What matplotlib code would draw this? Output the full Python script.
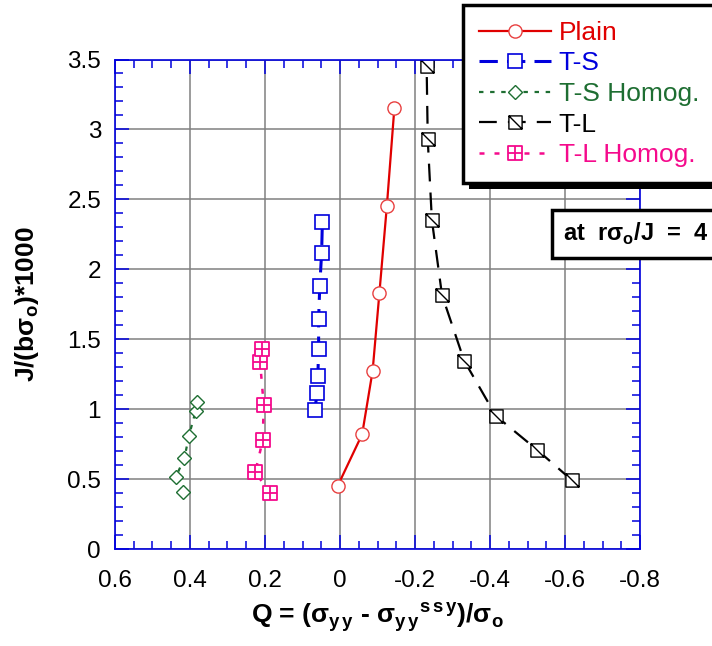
import numpy as np
import matplotlib
matplotlib.use('Agg')
import matplotlib.pyplot as plt
from matplotlib.path import Path
from matplotlib.patches import Rectangle
from matplotlib.transforms import IdentityTransform
from matplotlib.ticker import MultipleLocator, FuncFormatter

plt.rcParams['font.family'] = ['Liberation Sans', 'DejaVu Sans']
plt.rcParams['mathtext.fontset'] = 'custom'
plt.rcParams['mathtext.rm'] = 'Liberation Sans'
plt.rcParams['mathtext.bf'] = 'Liberation Sans:bold'

# data (Q, J/(b*sigma_o)*1000)
plain_q = [0.006, -0.059, -0.087, -0.105, -0.125, -0.145]
plain_j = [0.452, 0.820, 1.274, 1.828, 2.454, 3.154]

ts_q = [0.067, 0.061, 0.059, 0.057, 0.057, 0.054, 0.049, 0.047]
ts_j = [0.996, 1.117, 1.239, 1.431, 1.646, 1.878, 2.118, 2.340]

tsh_q = [0.419, 0.438, 0.415, 0.403, 0.385, 0.382]
tsh_j = [0.410, 0.515, 0.648, 0.808, 0.985, 1.049]

tl_q = [-0.618, -0.526, -0.416, -0.331, -0.272, -0.245, -0.234, -0.231]
tl_j = [0.493, 0.708, 0.951, 1.347, 1.816, 2.352, 2.928, 3.455]

tlh_q = [0.187, 0.226, 0.206, 0.2035, 0.213, 0.208]
tlh_j = [0.398, 0.552, 0.777, 1.031, 1.335, 1.432]

# custom markers: square with diagonal, square with cross
sq_diag = Path([(-1, -1), (1, -1), (1, 1), (-1, 1), (-1, -1), (-1, 1), (1, -1)],
               [Path.MOVETO, Path.LINETO, Path.LINETO, Path.LINETO, Path.CLOSEPOLY,
                Path.MOVETO, Path.LINETO])
sq_cross = Path([(-1, -1), (1, -1), (1, 1), (-1, 1), (-1, -1),
                 (0, -1), (0, 1), (-1, 0), (1, 0)],
                [Path.MOVETO, Path.LINETO, Path.LINETO, Path.LINETO, Path.CLOSEPOLY,
                 Path.MOVETO, Path.LINETO, Path.MOVETO, Path.LINETO])

red = '#E00000'
blue = '#0000DD'
green = '#1E6E32'
pink = '#F50A8C'

fig = plt.figure(figsize=(7.12, 6.46), dpi=100)
ax = fig.add_axes([115/712, 1 - 549/646, 525/712, 489.5/646])

ax.grid(True, color='#808080', linewidth=1.1, zorder=0)
ax.set_axisbelow(True)

ax.plot(plain_q, plain_j, color=red, lw=1.6, marker='o', ms=9.5,
        mfc='white', mec='#E84040', mew=1.0, label='Plain')
ax.plot(ts_q, ts_j, color=blue, lw=2.2, dashes=(6, 3), marker='s', ms=9.5,
        mfc='white', mec=blue, mew=1.2, label='T-S')
ax.plot(tsh_q, tsh_j, color=green, lw=1.6, dashes=(2, 3), marker='D', ms=7.5,
        mfc='white', mec=green, mew=1.0, label='T-S Homog.')
ax.plot(tl_q, tl_j, color='black', lw=1.6, dashes=(8, 5), marker=sq_diag, ms=9.5,
        mfc='white', mec='black', mew=1.0, label='T-L')
ax.plot(tlh_q, tlh_j, color=pink, lw=1.8, dashes=(2, 4), marker=sq_cross, ms=9.5,
        mfc='white', mec=pink, mew=1.3, label='T-L Homog.')

ax.set_xlim(0.6, -0.8)
ax.set_ylim(0, 3.5)
ax.xaxis.set_major_locator(MultipleLocator(0.2))
ax.xaxis.set_minor_locator(MultipleLocator(0.05))
ax.yaxis.set_major_locator(MultipleLocator(0.5))
ax.yaxis.set_minor_locator(MultipleLocator(0.1))
fmt = FuncFormatter(lambda v, p: f'{round(v, 2) + 0:g}')
ax.xaxis.set_major_formatter(fmt)
ax.yaxis.set_major_formatter(fmt)

for s in ax.spines.values():
    s.set_color(blue)
    s.set_linewidth(1.2)
ax.tick_params(which='both', direction='in', color=blue, top=True, right=True,
               labelsize=17.5, width=1.1)
ax.tick_params(which='major', length=10)
ax.tick_params(which='minor', length=5.5)
ax.tick_params(axis='x', pad=15)
ax.tick_params(axis='y', pad=10)

ax.set_xlabel('Q = (σ$_{\\mathbf{y\\,y}}$ - σ$_{\\mathbf{y\\,y}}$$^{\\mathbf{s\\,s\\,y}}$)/σ$_{\\mathbf{o}}$',
              fontsize=19, fontweight='bold', labelpad=6)
ax.set_ylabel('J/(bσ$_{\\mathbf{o}}$)*1000', fontsize=19, fontweight='bold')
ax.yaxis.set_label_coords(-0.14, 0.5)

leg_top = 1 - 5/646
leg = ax.legend(loc='upper left', bbox_to_anchor=(463/712, 0.5, 262/712, leg_top - 0.5),
                bbox_transform=fig.transFigure, mode='expand', fontsize=19,
                frameon=True, framealpha=1, fancybox=False, edgecolor='black',
                borderaxespad=0, handlelength=2.75, handletextpad=0.27,
                labelspacing=0.25, borderpad=0.6)
leg.get_frame().set_linewidth(2.5)
leg.set_zorder(10)
for txt, ln in zip(leg.get_texts(), leg.get_lines()):
    txt.set_color(ln.get_color())

ax.text(563/712, 1 - 234/646, 'at  rσ$_{\\mathbf{o}}$/J  =  4', transform=fig.transFigure,
        fontsize=17, fontweight='bold', va='center', ha='left', zorder=11,
        bbox=dict(boxstyle='square,pad=0.45', facecolor='white', edgecolor='black',
                  linewidth=2.5))

# solid black drop shadow behind the legend box
fig.canvas.draw()
bb = leg.get_frame().get_window_extent()
shadow = Rectangle((bb.x0 + 6, bb.y0 - 6), bb.width, bb.height, facecolor='black',
                   edgecolor='none', transform=IdentityTransform(), clip_on=False, zorder=9)
ax.add_artist(shadow)

fig.savefig('out.png', dpi=100)
